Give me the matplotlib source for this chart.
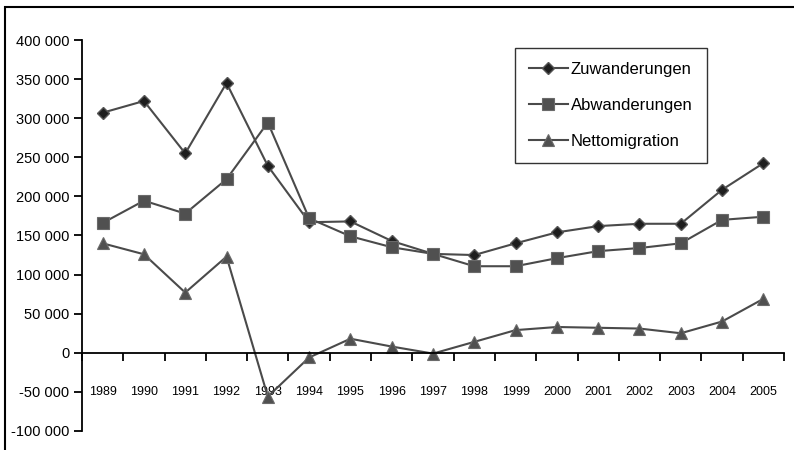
import matplotlib.pyplot as plt
from matplotlib.patches import Rectangle

plt.rcParams['font.family'] = ['Liberation Sans', 'DejaVu Sans']

# Data
years = ['1989', '1990', '1991', '1992', '1993', '1994', '1995', '1996', '1997',
         '1998', '1999', '2000', '2001', '2002', '2003', '2004', '2005']
zuwanderungen = [307000, 322000, 255000, 345000, 239000, 167000, 168000, 143000,
                 126500, 125000, 140000, 154000, 162000, 165000, 165000, 208500, 242500]
abwanderungen = [166000, 194500, 178000, 222000, 294500, 172000, 149000, 135000,
                 126500, 110700, 110700, 121000, 130000, 134000, 140000, 170000, 174000]
netto = [140000, 126000, 77000, 123000, -56000, -6000, 18000, 8000,
         -1000, 14000, 29000, 33000, 32000, 31000, 25000, 40000, 69000]

yticks = [-100000, -50000, 0, 50000, 100000, 150000, 200000, 250000, 300000, 350000, 400000]
ytick_labels = ['-100 000', '-50 000', '0', '50 000', '100 000', '150 000',
                '200 000', '250 000', '300 000', '350 000', '400 000']

fig = plt.figure(figsize=(7.94, 4.5), dpi=100)
ax = fig.add_axes([82/794, 1 - 431/450, (784 - 82)/794, (431 - 40)/450])

# frame round the whole chart (only left and top visible in the picture)
fig.patches.append(Rectangle((5/794, -0.1), 1.2, 1 - 7/450 + 0.1, transform=fig.transFigure,
                             fill=False, edgecolor='black', linewidth=1.5))

x = list(range(len(years)))
line_col = '#4a4a4a'
ax.plot(x, zuwanderungen, color=line_col, lw=1.5, marker='D', ms=6.5,
        mfc='#1e1e1e', mec='#555555', mew=1, label='Zuwanderungen')
ax.plot(x, abwanderungen, color=line_col, lw=1.5, marker='s', ms=8,
        mfc='#505050', mec='#6a6a6a', mew=0.8, label='Abwanderungen')
ax.plot(x, netto, color=line_col, lw=1.5, marker='^', ms=9,
        mfc='#505050', mec='#6a6a6a', mew=0.8, label='Nettomigration')

ax.set_xlim(-0.5, len(years) - 0.5)
ax.set_ylim(-100000, 400000)
ax.set_yticks(yticks)
ax.set_yticklabels(ytick_labels, fontsize=10.5)

# x axis sits at zero, ticks between categories
ax.spines['bottom'].set_position(('data', 0))
ax.spines['top'].set_visible(False)
ax.spines['right'].set_visible(False)
ax.spines['left'].set_linewidth(1.3)
ax.spines['bottom'].set_linewidth(1.3)
ax.set_xticks([i - 0.5 for i in range(len(years) + 1)])
ax.set_xticklabels([])
ax.set_xticks(x, minor=True)
ax.set_xticklabels(years, minor=True, fontsize=9)
ax.tick_params(axis='x', which='major', direction='out', length=6, width=1.3)
ax.tick_params(axis='x', which='minor', length=0, pad=24)
ax.tick_params(axis='y', direction='out', length=6, width=1.3, pad=3)

leg = ax.legend(loc='upper left', bbox_to_anchor=((515 - 82)/702, 1 - 8/391),
                fontsize=12, frameon=True, fancybox=False, edgecolor='black',
                handlelength=2.3, handletextpad=0.2, labelspacing=1.25,
                borderpad=0.85, borderaxespad=0)
leg.get_frame().set_linewidth(1.0)

plt.savefig('out.png', dpi=100)
